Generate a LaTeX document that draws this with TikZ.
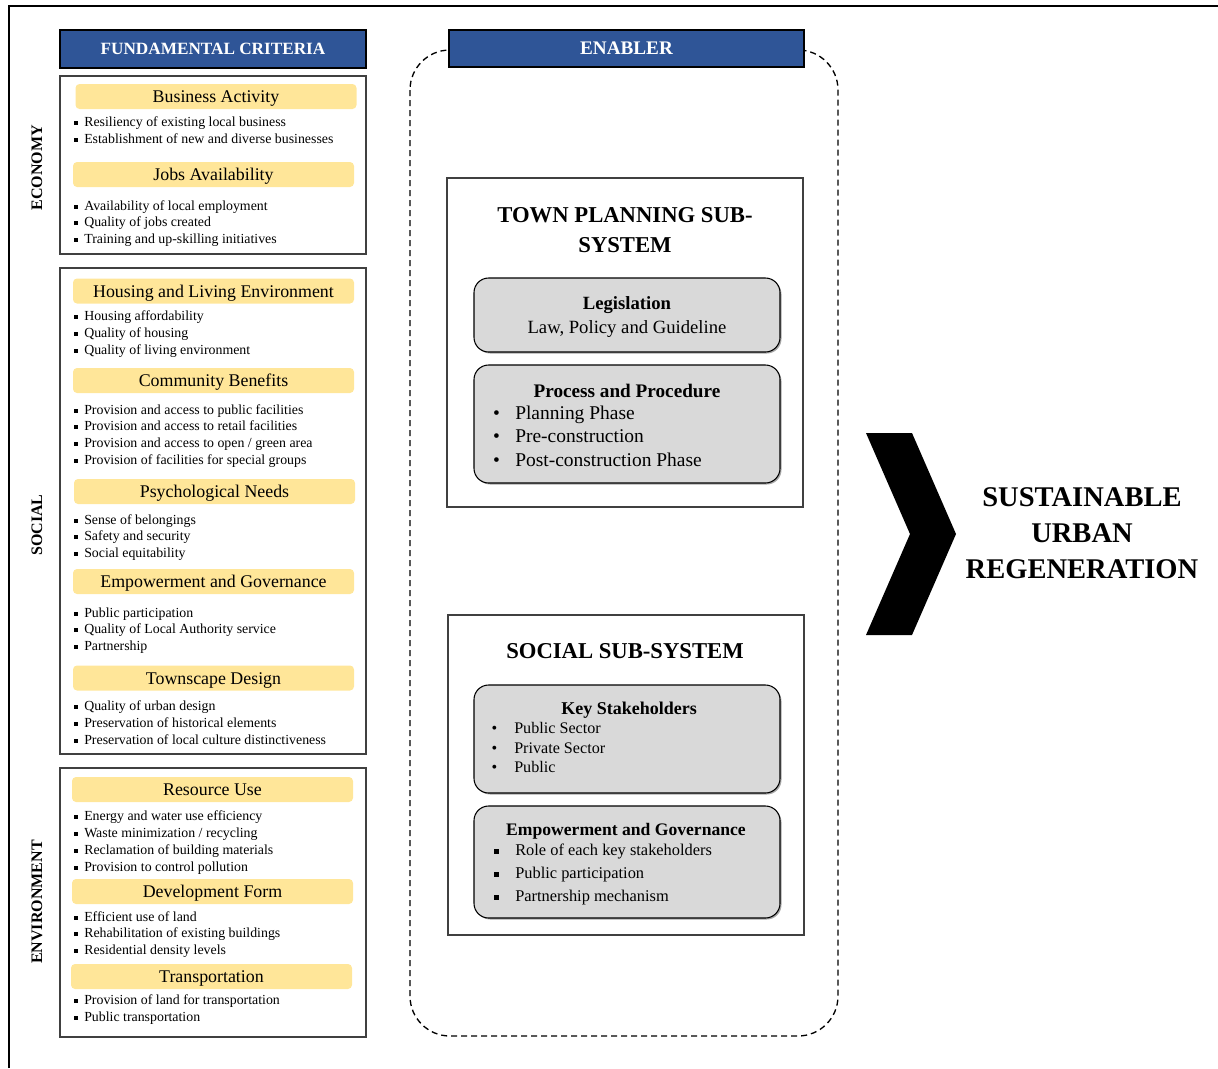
\documentclass[tikz,border=0pt]{standalone}
\usepackage{fontspec}
\setmainfont{Liberation Serif}
\definecolor{bannerblue}{HTML}{2F5597}
\definecolor{gold}{HTML}{FFE699}
\definecolor{boxgray}{HTML}{D9D9D9}
\definecolor{edgegray}{HTML}{404040}
\newcommand{\sqb}[2]{\llap{\rule[0.12em]{#1}{#1}\hspace{#2}}}
\newcommand{\rdb}[1]{\llap{\textbullet\hspace{#1}}}
\tikzset{
  banner/.style={draw=black, line width=0.8pt, fill=bannerblue, text=white, font=\bfseries, inner sep=0pt},
  critbox/.style={draw=edgegray, line width=0.9pt},
  hdr/.style={fill=gold, rounded corners=3pt, minimum width=210.75pt, minimum height=18.75pt, inner sep=0pt, text height=10.5pt, text depth=1.2pt, font=\fontsize{13.4}{15}\selectfont},
  critem/.style={anchor=west, inner sep=0pt, yshift=-1.5pt, font=\fontsize{10.4}{12}\selectfont, text height=7pt, text depth=2.2pt},
  catlabel/.style={rotate=90, font=\bfseries\fontsize{12}{14}\selectfont, inner sep=0pt},
  subbox/.style={draw=edgegray, line width=0.9pt, fill=white},
  graybox/.style={draw=black, line width=0.8pt, fill=boxgray, rounded corners=11pt},
  shadowbox/.style={fill=gray!70, rounded corners=11pt},
  subtitle/.style={font=\bfseries\fontsize{17}{23}\selectfont, align=center, inner sep=0pt},
  entitle/.style={inner sep=0pt, yshift=-1.5pt},
  enitem/.style={anchor=west, inner sep=0pt, yshift=-1.5pt, text height=9pt, text depth=3pt},
}
\begin{document}
\begin{tikzpicture}[x=0.75pt,y=-0.75pt]
\useasboundingbox (0,0) rectangle (1218,1068);
% outer frame
\draw[line width=1.5pt] (9,1068) -- (9,6) -- (1218,6);

% ---------- left column ----------
\node[banner, minimum width=229.5pt, minimum height=28.5pt, font=\bfseries\fontsize{12.9}{15}\selectfont] (fc) at (213,49) {FUNDAMENTAL CRITERIA};
\draw[critbox] (60,76) rectangle (366,254);
\draw[critbox] (60,268) rectangle (366,754);
\draw[critbox] (60,768) rectangle (366,1037);

\node[catlabel] (eco) at (37,168) {ECONOMY};
\node[catlabel] (soc) at (37,525) {SOCIAL};
\node[catlabel] (env) at (37,902) {ENVIRONMENT};

\node[hdr] (h1) at (216,96.5) {Business Activity};
\node[hdr] (h2) at (213.5,174.5) {Jobs Availability};
\node[hdr] (h3) at (213.5,291) {Housing and Living Environment};
\node[hdr] (h4) at (213.5,380.5) {Community Benefits};
\node[hdr] (h5) at (214.5,491.5) {Psychological Needs};
\node[hdr] (h6) at (213.5,581.5) {Empowerment and Governance};
\node[hdr] (h7) at (213.5,678) {Townscape Design};
\node[hdr] (h8) at (212.5,789.5) {Resource Use};
\node[hdr] (h9) at (212.5,891.5) {Development Form};
\node[hdr] (h10) at (211.5,976.5) {Transportation};

\foreach \t [count=\i] in {Resiliency of existing local business, Establishment of new and diverse businesses}
  \node[critem] (a\i) at (84,{121+(\i-1)*17}) {\sqb{3pt}{4.5pt}\t};
\foreach \t [count=\i] in {Availability of local employment, Quality of jobs created, Training and up-skilling initiatives}
  \node[critem] (b\i) at (84,{205+(\i-1)*16.6}) {\sqb{3pt}{4.5pt}\t};
\foreach \t [count=\i] in {Housing affordability, Quality of housing, Quality of living environment}
  \node[critem] (c\i) at (84,{315+(\i-1)*17}) {\sqb{3pt}{4.5pt}\t};
\foreach \t [count=\i] in {Provision and access to public facilities, Provision and access to retail facilities, Provision and access to open / green area, Provision of facilities for special groups}
  \node[critem] (d\i) at (84,{409+(\i-1)*16.7}) {\sqb{3pt}{4.5pt}\t};
\foreach \t [count=\i] in {Sense of belongings, Safety and security, Social equitability}
  \node[critem] (e\i) at (84,{519+(\i-1)*16.5}) {\sqb{3pt}{4.5pt}\t};
\foreach \t [count=\i] in {Public participation, Quality of Local Authority service, Partnership}
  \node[critem] (f\i) at (84,{612+(\i-1)*16.6}) {\sqb{3pt}{4.5pt}\t};
\foreach \t [count=\i] in {Quality of urban design, Preservation of historical elements, Preservation of local culture distinctiveness}
  \node[critem] (g\i) at (84,{705+(\i-1)*17}) {\sqb{3pt}{4.5pt}\t};
\foreach \t [count=\i] in {Energy and water use efficiency, Waste minimization / recycling, Reclamation of building materials, Provision to control pollution}
  \node[critem] (k\i) at (84,{815+(\i-1)*17}) {\sqb{3pt}{4.5pt}\t};
\foreach \t [count=\i] in {Efficient use of land, Rehabilitation of existing buildings, Residential density levels}
  \node[critem] (m\i) at (84,{916+(\i-1)*16.5}) {\sqb{3pt}{4.5pt}\t};
\foreach \t [count=\i] in {Provision of land for transportation, Public transportation}
  \node[critem] (n\i) at (84,{999+(\i-1)*17}) {\sqb{3pt}{4.5pt}\t};

% ---------- enabler column ----------
\draw[dashed, dash pattern=on 4.5pt off 3pt, line width=1pt, rounded corners=30pt] (410,50) rectangle (838,1036);
\node[banner, minimum width=266.25pt, minimum height=27.75pt, font=\bfseries\fontsize{14.4}{16}\selectfont] (en) at (626.5,48.5) {ENABLER};

\draw[subbox] (447,178) rectangle (803,507);
\node[subtitle] (tp) at (625,230) {TOWN PLANNING SUB-\\SYSTEM};

\fill[shadowbox] (475.5,279.5) rectangle (781.5,353.5);
\draw[graybox] (474,278) rectangle (780,352);
\node[entitle, align=center, font=\fontsize{14}{18}\selectfont] (leg) at (627,315) {\textbf{Legislation}\\Law, Policy and Guideline};

\fill[shadowbox] (475.5,366.5) rectangle (781.5,484.5);
\draw[graybox] (474,365) rectangle (780,483);
\node[entitle, font=\bfseries\fontsize{14.4}{16}\selectfont] (pp) at (627,389) {Process and Procedure};
\foreach \t [count=\i] in {Planning Phase, Pre-construction, Post-construction Phase}
  \node[enitem, font=\fontsize{14.6}{17}\selectfont] (p\i) at (515,{413+(\i-1)*23.5}) {\rdb{11.5pt}\t};

\draw[subbox] (448,615) rectangle (804,935);
\node[subtitle] (ss) at (625,651) {SOCIAL SUB-SYSTEM};

\fill[shadowbox] (475.5,686.5) rectangle (781.5,794.5);
\draw[graybox] (474,685) rectangle (780,793);
\node[entitle, font=\bfseries\fontsize{13.5}{16}\selectfont] (ks) at (629,708) {Key Stakeholders};
\foreach \t [count=\i] in {Public Sector, Private Sector, Public}
  \node[enitem, font=\fontsize{12.1}{14}\selectfont, text height=8pt, text depth=2.5pt] (s\i) at (514,{728+(\i-1)*19.5}) {\rdb{12.7pt}\t};

\fill[shadowbox] (475.5,807.5) rectangle (781.5,919.5);
\draw[graybox] (474,806) rectangle (780,918);
\node[entitle, font=\bfseries\fontsize{13.2}{16}\selectfont] (eg) at (626,829) {Empowerment and Governance};
\foreach \t [count=\i] in {Role of each key stakeholders, Public participation, Partnership mechanism}
  \node[enitem, font=\fontsize{12.3}{14}\selectfont, text height=8pt, text depth=2.5pt] (r\i) at (515,{850+(\i-1)*23}) {\sqb{3.6pt}{12.2pt}\t};

% ---------- outcome ----------
\fill (866,433) -- (912,433) -- (956,534) -- (912,635) -- (866,635) -- (910,534) -- cycle;
\node[align=center, inner sep=0pt, font=\bfseries\fontsize{21.4}{27}\selectfont] (sur) at (1082,533) {SUSTAINABLE\\URBAN\\REGENERATION};
\end{tikzpicture}
\end{document}
